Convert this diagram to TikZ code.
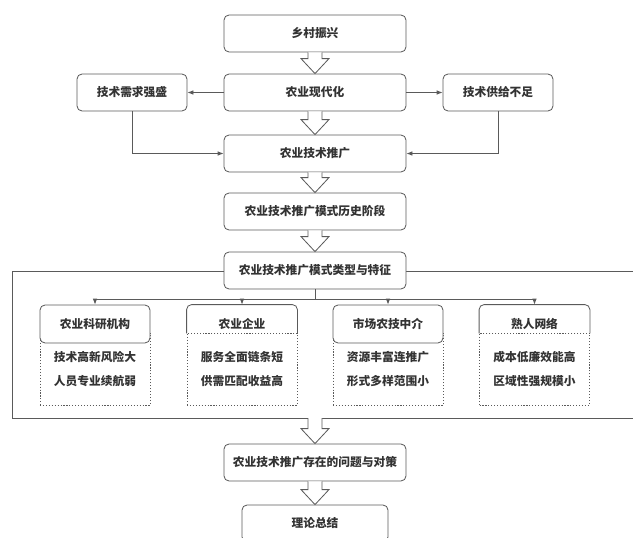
\documentclass[tikz,border=0pt]{standalone}
\usepackage{fontspec}
\usepackage{tikz}
\usetikzlibrary{arrows.meta, calc}
\newfontfamily\cjk{Noto Sans CJK SC}
\definecolor{linegray}{HTML}{5A5A5A}
\definecolor{textgray}{HTML}{333333}

\begin{document}
\begin{tikzpicture}[x=0.3mm, y=-0.3mm,
    every node/.style={font=\cjk\fontsize{10}{21}\selectfont\bfseries, text=textgray, inner sep=0pt},
    box/.style={draw=linegray, line width=0.7pt, rounded corners=1.5mm, fill=white, minimum height=11.1mm},
    mainbox/.style={box, minimum width=54.6mm},
    sidebox/.style={box, minimum width=33mm},
    headbox/.style={box, minimum width=33mm, minimum height=11.4mm},
    bodybox/.style={draw=linegray, line width=0.7pt, dash pattern=on 1pt off 1.5pt, minimum width=33mm, minimum height=21.6mm, align=center},
    conn/.style={draw=linegray, line width=0.7pt, -{Latex[length=1.8mm, width=1.4mm]}},
    hollow/.style={draw=linegray, line width=0.7pt, fill=white, line join=miter}]

  \clip (0,0) rectangle (633,538);

  % frame round the types
  \draw[draw=linegray, line width=0.7pt] (12,271) rectangle (650,418);
  \coordinate (fb) at (315,418);

  \node[mainbox] (rv) at (315,33.5) {乡村振兴};
  \node[mainbox] (xd) at (315,92.5) {农业现代化};
  \node[sidebox] (xq) at (132,92.5) {技术需求强盛};
  \node[sidebox] (gj) at (498,92.5) {技术供给不足};
  \node[mainbox] (tg) at (315,153.5) {农业技术推广};
  \node[mainbox] (ls) at (315,211.5) {农业技术推广模式历史阶段};
  \node[mainbox] (lx) at (315,270.5) {农业技术推广模式类型与特征};
  \node[mainbox] (wt) at (315,462.5) {农业技术推广存在的问题与对策};
  \node[box, minimum width=43.8mm] (zj) at (315,523.5) {理论总结};

  \draw[conn] (xd.west) -- (xq.east);
  \draw[conn] (xd.east) -- (gj.west);
  \draw[conn] (xq.south) |- (tg.west);
  \draw[conn] (gj.south) |- (tg.east);

  % four types
  \node[bodybox] (b1) at (95,369) {技术高新风险大\\人员专业续航弱};
  \node[bodybox] (b2) at (242,369) {服务全面链条短\\供需匹配收益高};
  \node[bodybox] (b3) at (388,369) {资源丰富连推广\\形式多样范围小};
  \node[bodybox] (b4) at (534.5,369) {成本低廉效能高\\区域性强规模小};

  \node[headbox] (h1) at (95,324) {农业科研机构};
  \node[headbox, draw=none, fill=none] (h2) at (242,324) {农业企业};
  \node[headbox] (h3) at (388,324) {市场农技中介};
  \node[headbox, draw=none, fill=none] (h4) at (534.5,324) {熟人网络};
  \foreach \h in {h2,h4}
    \draw[draw=linegray, line width=0.7pt, rounded corners=1.5mm] ($(\h.south west)+(0,-10)$) |- (\h.north) -| ($(\h.south east)+(0,-10)$);

  \foreach \h in {h1,h2,h3,h4}
    \draw[conn] (lx.south) -- ++(0,10) -| (\h.north);

  \foreach \a/\b in {rv.south/xd.north, xd.south/tg.north, tg.south/ls.north, ls.south/lx.north, fb/wt.north, wt.south/zj.north} {
    \draw[hollow] ($(\a)+(-7,0)$) -- ($(\b)+(-7,-15)$) -- ($(\b)+(-14,-15)$) -- (\b)
      -- ($(\b)+(14,-15)$) -- ($(\b)+(7,-15)$) -- ($(\a)+(7,0)$);
  }
\end{tikzpicture}
\end{document}
